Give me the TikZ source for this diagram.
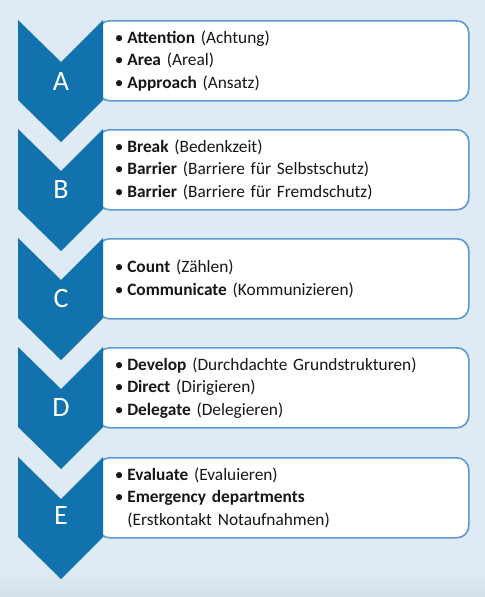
\documentclass[tikz,border=0pt]{standalone}
\usepackage{fontspec}
\setmainfont{Carlito}
\definecolor{bgblue}{RGB}{222,234,244}
\definecolor{bgshade}{RGB}{212,223,231}
\definecolor{chevblue}{RGB}{17,114,173}
\definecolor{boxblue}{RGB}{91,155,213}
\definecolor{textdark}{RGB}{25,22,20}
\newcommand{\bul}{\textbullet\hspace{0.22em}}

\begin{document}
\begin{tikzpicture}[x=0.75pt,y=-0.75pt,
    chevron/.style = {
      fill = chevblue
    },
    stagebox/.style = {
      draw = boxblue,
      line width = 1.2pt,
      fill = white,
      rounded corners = 9pt,
      anchor = north west,
      minimum width = 278.25pt,
      minimum height = 60pt,
      inner xsep = 12.8pt,
      text width = 252.65pt,
      align = left,
      text = textdark,
      font = \fontsize{13}{16.9}\selectfont
    },
    letter/.style = {
      text = white,
      font = \fontsize{21}{21}\selectfont
    }
  ]
  % background
  \fill[bgblue] (0,0) rectangle (485,597);
  \shade[top color=bgblue, bottom color=bgshade] (0,572) rectangle (485,597);
  \useasboundingbox (0,0) rectangle (485,597);

  % boxes
  \node[stagebox] (boxA) at (97,20)
    {\bul\textbf{Attention} (Achtung)\\
     \bul\textbf{Area} (Areal)\\
     \bul\textbf{Approach} (Ansatz)};
  \node[stagebox] (boxB) at (97,129)
    {\bul\textbf{Break} (Bedenkzeit)\\
     \bul\textbf{Barrier} (Barriere für Selbstschutz)\\
     \bul\textbf{Barrier} (Barriere für Fremdschutz)};
  \node[stagebox] (boxC) at (97,238)
    {\bul\textbf{Count} (Zählen)\\
     \bul\textbf{Communicate} (Kommunizieren)};
  \node[stagebox] (boxD) at (97,347)
    {\bul\textbf{Develop} (Durchdachte Grundstrukturen)\\
     \bul\textbf{Direct} (Dirigieren)\\
     \bul\textbf{Delegate} (Delegieren)};
  \node[stagebox] (boxE) at (97,457)
    {\bul\textbf{Evaluate} (Evaluieren)\\
     \bul\textbf{Emergency departments}\\
     \hphantom{\bul}(Erstkontakt Notaufnahmen)};

  % chevrons
  \fill[chevron] (18,20) -- (61,62) -- (103,20) -- (103,100) -- (61,142) -- (18,100) -- cycle;
  \fill[chevron] (18,129) -- (61,171) -- (103,129) -- (103,209) -- (61,251) -- (18,209) -- cycle;
  \fill[chevron] (18,238) -- (61,280) -- (103,238) -- (103,318) -- (61,360) -- (18,318) -- cycle;
  \fill[chevron] (18,347) -- (61,389) -- (103,347) -- (103,427) -- (61,469) -- (18,427) -- cycle;
  \fill[chevron] (18,457) -- (61,499) -- (103,457) -- (103,537) -- (61,579) -- (18,537) -- cycle;

  \node[letter] (A) at (61,82) {A};
  \node[letter] (B) at (61,190) {B};
  \node[letter] (C) at (61,299) {C};
  \node[letter] (D) at (61,408) {D};
  \node[letter] (E) at (61,516) {E};
\end{tikzpicture}
\end{document}
